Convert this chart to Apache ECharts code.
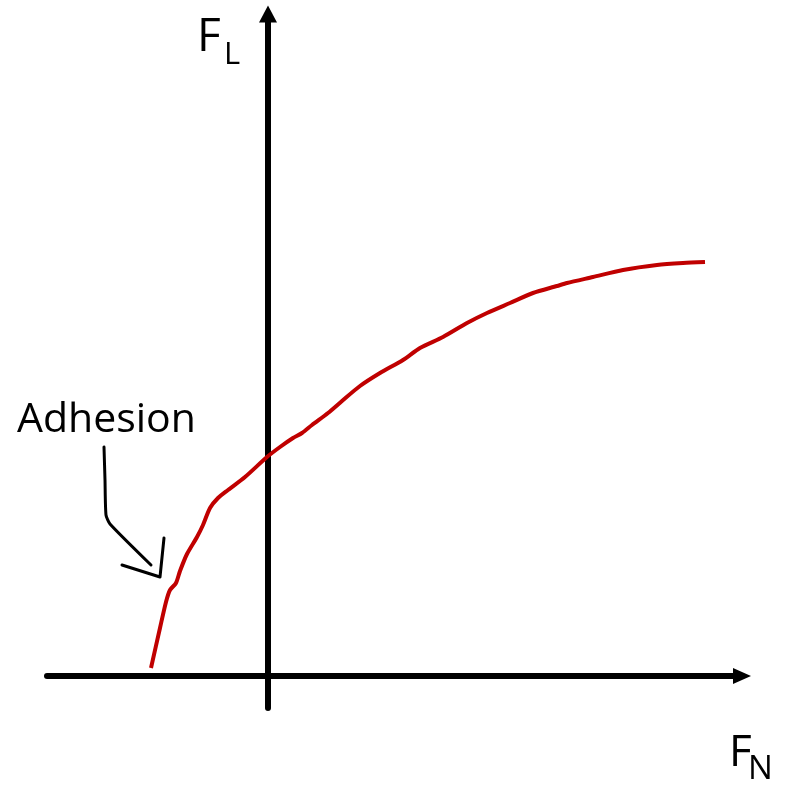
<!DOCTYPE html>
<html>
<head>
<meta charset="utf-8">
<script src="https://cdn.jsdelivr.net/npm/echarts@6/dist/echarts.min.js"></script>
<style>
  html, body { margin: 0; padding: 0; background: #fff; }
  #main { width: 785px; height: 787px; }
</style>
</head>
<body>
<div id="main"></div>
<script>
// friction curve: F_N (x) vs F_L (y), arbitrary units
var curveX = [-1.17, -1.08, -1.02, -0.98, -0.92, -0.88, -0.81, -0.71, -0.65, -0.58,
  -0.50, -0.40, -0.23, -0.01, 0.12, 0.25, 0.34, 0.44, 0.60, 0.74,
  0.92, 1.12, 1.35, 1.52, 1.75, 1.99, 2.19, 2.42, 2.65, 2.89,
  2.99, 3.25, 3.55, 3.89, 4.15, 4.37];
var curveY = [0.08, 0.48, 0.74, 0.86, 0.93, 1.05, 1.22, 1.39, 1.51, 1.68,
  1.78, 1.86, 1.99, 2.19, 2.29, 2.38, 2.43, 2.51, 2.63, 2.75,
  2.90, 3.03, 3.16, 3.28, 3.39, 3.53, 3.63, 3.73, 3.83, 3.90,
  3.93, 3.99, 4.06, 4.11, 4.13, 4.14];

// hand drawn pointer next to "Adhesion"
var pointerStemX = [-1.64, -1.63, -1.62, -1.58, -1.17];
var pointerStemY = [2.29, 1.96, 1.61, 1.52, 1.11];
var pointerHeadX = [-1.46, -1.08, -1.04];
var pointerHeadY = [1.11, 0.99, 1.38];

var xRange = [-2.21, 4.74];
var yRange = [-0.32, 6.62];

function pairs(xs, ys) {
  var out = [];
  for (var i = 0; i < xs.length; i++) out.push([xs[i], ys[i]]);
  return out;
}

var FONT = '"Open Sans", sans-serif';
var chart = echarts.init(document.getElementById('main'));

var axisCommon = {
  type: 'value',
  axisTick: { show: false },
  axisLabel: { show: false },
  splitLine: { show: false }
};

chart.setOption({
  animation: false,
  backgroundColor: '#fff',
  grid: { left: 47, right: 43, top: 14, bottom: 79 },
  xAxis: Object.assign({}, axisCommon, {
    min: xRange[0], max: xRange[1],
    axisLine: { show: true, onZero: true, symbol: ['none', 'triangle'], symbolSize: [16, 18],
      lineStyle: { color: '#000', width: 6 } }
  }),
  yAxis: Object.assign({}, axisCommon, {
    min: yRange[0], max: yRange[1],
    axisLine: { show: true, onZero: true, symbol: ['none', 'triangle'], symbolSize: [18, 17],
      lineStyle: { color: '#000', width: 6 } }
  }),
  series: [
    {
      type: 'line',
      data: pairs(curveX, curveY),
      showSymbol: false,
      smooth: 0.25,
      lineStyle: { color: '#c00000', width: 4 },
      z: 5
    },
    {
      type: 'line',
      data: pairs(pointerStemX, pointerStemY),
      showSymbol: false,
      smooth: 0.2,
      lineStyle: { color: '#000', width: 3, cap: 'round', join: 'round' }
    },
    {
      type: 'line',
      data: pairs(pointerHeadX, pointerHeadY),
      showSymbol: false,
      lineStyle: { color: '#000', width: 3, cap: 'round', join: 'round' }
    }
  ],
  graphic: [
    { type: 'text', left: 197, top: 15,
      style: { text: 'F', font: '46px ' + FONT, fill: '#000' } },
    { type: 'text', left: 224, top: 40,
      style: { text: 'L', font: '31px ' + FONT, fill: '#000' } },
    { type: 'text', left: 729, top: 731,
      style: { text: 'F', font: '44px ' + FONT, fill: '#000' } },
    { type: 'text', left: 748, top: 753,
      style: { text: 'N', font: '33px ' + FONT, fill: '#000' } },
    { type: 'text', left: 17, top: 400,
      style: { text: 'Adhesion', font: '41px ' + FONT, fill: '#000' } }
  ]
});
</script>
</body>
</html>
